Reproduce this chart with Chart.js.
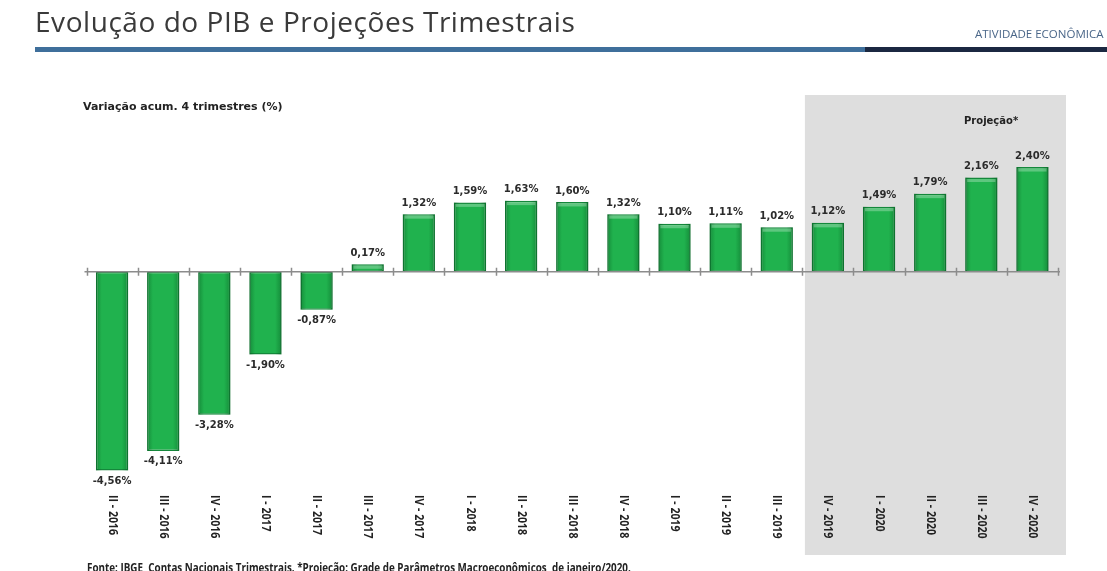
<!DOCTYPE html>
<html>
<head>
<meta charset="utf-8">
<script src="https://cdn.jsdelivr.net/npm/chart.js@4/dist/chart.umd.min.js"></script>
<style>
  html, body { margin: 0; padding: 0; background: #fff; overflow: hidden; }
  #page { position: relative; width: 1107px; height: 571px; overflow: hidden; }
  #wrap { position: absolute; left: 0; top: 0; width: 1107px; height: 571px; }
  .txt { position: absolute; white-space: nowrap; }
  #title { left: 35px; top: 2px; font: 28px "Open Sans", sans-serif; letter-spacing: 0.55px; color: #3a3a3a; }
  #section { left: 975px; top: 26px; font: 11.5px "Open Sans", sans-serif; color: #4a6688; }
  #barBlue { position: absolute; left: 35px; top: 47px; width: 830px; height: 5px; background: #3f6f9b; }
  #barDark { position: absolute; left: 865px; top: 47px; width: 242px; height: 5px; background: #1b2841; }
  #subtitle { left: 83px; top: 100px; font: bold 11px "DejaVu Sans", sans-serif; color: #222; }
  #proj { left: 964px; top: 115px; font: bold 10px "DejaVu Sans", sans-serif; color: #222; }
  #footer { left: 87px; top: 559px; font: bold 12px "Open Sans", sans-serif; color: #222;
            transform: scaleX(0.82); transform-origin: left top; }
</style>
</head>
<body>
<div id="page">
  <div id="wrap"><canvas id="pibChart"></canvas></div>
  <div class="txt" id="title">Evolução do PIB e Projeções Trimestrais</div>
  <div class="txt" id="section">ATIVIDADE ECONÔMICA</div>
  <div id="barBlue"></div>
  <div id="barDark"></div>
  <div class="txt" id="subtitle">Variação acum. 4 trimestres (%)</div>
  <div class="txt" id="proj">Projeção*</div>
  <div class="txt" id="footer">Fonte: IBGE, Contas Nacionais Trimestrais. *Projeção: Grade de Parâmetros Macroeconômicos, de janeiro/2020.</div>
</div>
<script>
const quarters = [
    'II - 2016', 'III - 2016', 'IV - 2016',
    'I - 2017', 'II - 2017', 'III - 2017', 'IV - 2017',
    'I - 2018', 'II - 2018', 'III - 2018', 'IV - 2018',
    'I - 2019', 'II - 2019', 'III - 2019', 'IV - 2019',
    'I - 2020', 'II - 2020', 'III - 2020', 'IV - 2020'
];
const pibAcum = [
    -4.56, -4.11, -3.28,
    -1.90, -0.87, 0.17, 1.32,
    1.59, 1.63, 1.60, 1.32,
    1.10, 1.11, 1.02, 1.12,
    1.49, 1.79, 2.16, 2.40
];
const firstProjection = 14; // IV - 2019 onwards sits in the shaded box

const fmt = v => v.toFixed(2).replace('.', ',') + '%';

// gray box behind the projected quarters
const projBox = {
    id: 'projBox',
    beforeDatasetsDraw(chart) {
        const { ctx, chartArea, scales: { x } } = chart;
        const catW = (chartArea.right - chartArea.left) / quarters.length;
        const x0 = x.getPixelForValue(firstProjection) - catW * 0.45;
        ctx.save();
        ctx.fillStyle = '#dedede';
        ctx.fillRect(x0, 95, chartArea.right + 8 - x0, 460);
        ctx.restore();
    }
};

// zero axis with tick marks, bar shading, value labels and rotated category labels
const decorations = {
    id: 'decorations',
    afterDatasetsDraw(chart) {
        const { ctx, chartArea, scales: { x, y } } = chart;
        const y0 = y.getPixelForValue(0);
        const catW = (chartArea.right - chartArea.left) / quarters.length;
        const bars = chart.getDatasetMeta(0).data;

        ctx.save();
        // rounded "3d" look: darker sides, lighter cap at the far end
        bars.forEach(bar => {
            const left = bar.x - bar.width / 2;
            const top = Math.min(bar.y, bar.base);
            const h = Math.abs(bar.base - bar.y);
            const g = ctx.createLinearGradient(left, 0, left + bar.width, 0);
            g.addColorStop(0, 'rgba(0,70,20,0.35)');
            g.addColorStop(0.18, 'rgba(0,70,20,0)');
            g.addColorStop(0.8, 'rgba(0,70,20,0)');
            g.addColorStop(1, 'rgba(0,70,20,0.35)');
            ctx.fillStyle = g;
            ctx.fillRect(left, top, bar.width, h);
            if (bar.y < bar.base && h > 6) {
                ctx.fillStyle = 'rgba(255,255,255,0.28)';
                ctx.fillRect(left + 2, bar.y + 1.5, bar.width - 4, 3);
            }
        });

        ctx.strokeStyle = '#8c8c8c';
        ctx.lineWidth = 1.5;
        ctx.beginPath();
        ctx.moveTo(chartArea.left - 2, y0);
        ctx.lineTo(chartArea.right + 2, y0);
        for (let i = 0; i <= quarters.length; i++) {
            const tx = Math.round(chartArea.left + i * catW) + 0.5;
            ctx.moveTo(tx, y0 - 4);
            ctx.lineTo(tx, y0 + 4);
        }
        ctx.stroke();

        ctx.fillStyle = '#2b2b2b';
        ctx.font = 'bold 10px "DejaVu Sans", sans-serif';
        ctx.textAlign = 'center';
        bars.forEach((bar, i) => {
            const v = pibAcum[i];
            if (v >= 0) {
                ctx.textBaseline = 'bottom';
                ctx.fillText(fmt(v), bar.x, bar.y - 6);
            } else {
                ctx.textBaseline = 'top';
                ctx.fillText(fmt(v), bar.x, bar.y + 6);
            }
        });

        ctx.font = 'bold 12px "Open Sans", sans-serif';
        ctx.fillStyle = '#222';
        ctx.textAlign = 'left';
        ctx.textBaseline = 'middle';
        quarters.forEach((q, i) => {
            ctx.save();
            ctx.translate(x.getPixelForValue(i), 495);
            ctx.rotate(Math.PI / 2);
            ctx.scale(0.88, 1);
            ctx.fillText(q, 0, 0);
            ctx.restore();
        });
        ctx.restore();
    }
};

new Chart(document.getElementById('pibChart'), {
    type: 'bar',
    data: {
        labels: quarters,
        datasets: [{
            data: pibAcum,
            backgroundColor: '#20b24e',
            borderColor: '#14883b',
            borderWidth: 1.5,
            borderSkipped: false,
            barPercentage: 0.63,
            categoryPercentage: 1
        }]
    },
    options: {
        responsive: true,
        maintainAspectRatio: false,
        animation: false,
        layout: { padding: { left: 86.5, right: 49, top: 97.3, bottom: 81.3 } },
        plugins: {
            legend: { display: false },
            tooltip: { enabled: false }
        },
        scales: {
            x: { display: false, offset: true },
            y: { display: false, min: -5, max: 4 }
        }
    },
    plugins: [projBox, decorations]
});
</script>
</body>
</html>
